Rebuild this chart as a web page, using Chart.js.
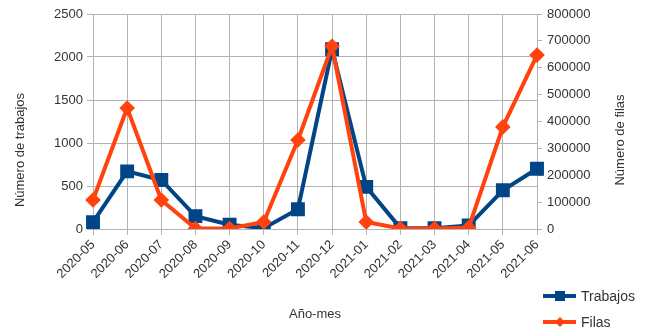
<!DOCTYPE html>
<html>
<head>
<meta charset="utf-8">
<script src="https://cdn.jsdelivr.net/npm/chart.js@4.4.1/dist/chart.umd.min.js"></script>
<style>
    body { margin: 0; background: #fff; }
    #wrap { position: relative; width: 648px; height: 336px; }
    #leyenda { position: absolute; left: 543px; top: 283px; font: 14px "Liberation Sans", Arial, sans-serif; color: #333; }
    .fila { display: flex; align-items: center; height: 26px; }
    .marca { position: relative; width: 33px; height: 4px; margin-right: 5px; }
    .marca span { position: absolute; left: 50%; top: 50%; transform: translate(-50%, -50%); }
</style>
</head>
<body>
<div id="wrap">
    <canvas id="grafico" width="648" height="336"></canvas>
    <div id="leyenda"></div>
</div>
<script>
// Datos
const meses = ['2020-05', '2020-06', '2020-07', '2020-08', '2020-09', '2020-10', '2020-11',
               '2020-12', '2021-01', '2021-02', '2021-03', '2021-04', '2021-05', '2021-06'];
const trabajos = [80, 670, 570, 150, 50, 10, 230, 2090, 490, 10, 10, 40, 450, 700];
const filas = [108000, 450000, 108000, 2000, 2000, 26000, 331000, 680000, 26000, 2000, 2000, 5000, 380000, 647000];

const AZUL = '#004586';
const NARANJA = '#ff420e';
const GRIS = '#b3b3b3';
const TEXTO = '#333333';
const FUENTE = '"Liberation Sans", Arial, sans-serif';

// Títulos de ejes dibujados a mano (el derecho se lee de abajo hacia arriba)
const titulosEjes = {
    id: 'titulosEjes',
    afterDraw(chart) {
        const ctx = chart.ctx;
        const area = chart.chartArea;
        ctx.save();
        ctx.font = '13px ' + FUENTE;
        ctx.fillStyle = TEXTO;
        ctx.textAlign = 'center';
        ctx.textBaseline = 'middle';

        ctx.save();
        ctx.translate(20, 150);
        ctx.rotate(-Math.PI / 2);
        ctx.fillText('Número de trabajos', 0, 0);
        ctx.restore();

        ctx.save();
        ctx.translate(620, 140);
        ctx.rotate(-Math.PI / 2);
        ctx.fillText('Número de filas', 0, 0);
        ctx.restore();

        ctx.fillText('Año-mes', (area.left + area.right) / 2, 314);
        ctx.restore();
    }
};

const sinSeparador = (v) => String(v);

function crearGrafico() {
    const ctx = document.getElementById('grafico').getContext('2d');
    return new Chart(ctx, {
        type: 'line',
        data: {
            labels: meses,
            datasets: [{
                label: 'Trabajos',
                data: trabajos,
                yAxisID: 'y',
                borderColor: AZUL,
                backgroundColor: AZUL,
                borderWidth: 4,
                pointStyle: 'rect',
                pointRadius: 7,
                tension: 0,
                order: 1
            }, {
                label: 'Filas',
                data: filas,
                yAxisID: 'y1',
                borderColor: NARANJA,
                backgroundColor: NARANJA,
                borderWidth: 4,
                pointStyle: 'rectRot',
                pointRadius: 5,
                tension: 0,
                order: 0
            }]
        },
        options: {
            responsive: false,
            animation: false,
            layout: { padding: { top: 14, left: 0, right: 0, bottom: 0 } },
            plugins: {
                legend: { display: false },
                tooltip: { enabled: false }
            },
            scales: {
                x: {
                    afterFit: (s) => { s.height = 107; },
                    grid: { color: GRIS, tickLength: 6 },
                    border: { color: GRIS },
                    ticks: {
                        color: TEXTO,
                        font: { family: FUENTE, size: 13 },
                        minRotation: 45,
                        maxRotation: 45,
                        padding: 2
                    }
                },
                y: {
                    position: 'left',
                    min: 0,
                    max: 2500,
                    afterFit: (s) => { s.width = 93; },
                    grid: { color: GRIS, tickLength: 6 },
                    border: { color: GRIS },
                    ticks: {
                        stepSize: 500,
                        color: TEXTO,
                        font: { family: FUENTE, size: 13 },
                        padding: 4,
                        callback: sinSeparador
                    }
                },
                y1: {
                    position: 'right',
                    min: 0,
                    max: 800000,
                    afterFit: (s) => { s.width = 111; },
                    grid: { drawOnChartArea: false, color: GRIS, tickLength: 5 },
                    border: { color: GRIS },
                    ticks: {
                        stepSize: 100000,
                        color: TEXTO,
                        font: { family: FUENTE, size: 13 },
                        padding: 5,
                        callback: sinSeparador
                    }
                }
            }
        },
        plugins: [titulosEjes]
    });
}

// Leyenda en HTML, abajo a la derecha
function crearLeyenda(chart) {
    const cont = document.getElementById('leyenda');
    chart.data.datasets.forEach((ds) => {
        const fila = document.createElement('div');
        fila.className = 'fila';
        const marca = document.createElement('div');
        marca.className = 'marca';
        marca.style.background = ds.borderColor;
        const punto = document.createElement('span');
        if (ds.pointStyle === 'rect') {
            punto.style.cssText = `width:10px;height:10px;background:${ds.borderColor};`;
        } else {
            punto.style.cssText = `width:7px;height:7px;background:${ds.borderColor};transform:translate(-50%,-50%) rotate(45deg);`;
        }
        marca.appendChild(punto);
        const texto = document.createElement('span');
        texto.textContent = ds.label;
        fila.appendChild(marca);
        fila.appendChild(texto);
        cont.appendChild(fila);
    });
}

document.addEventListener('DOMContentLoaded', () => {
    const grafico = crearGrafico();
    crearLeyenda(grafico);
});
</script>
</body>
</html>
